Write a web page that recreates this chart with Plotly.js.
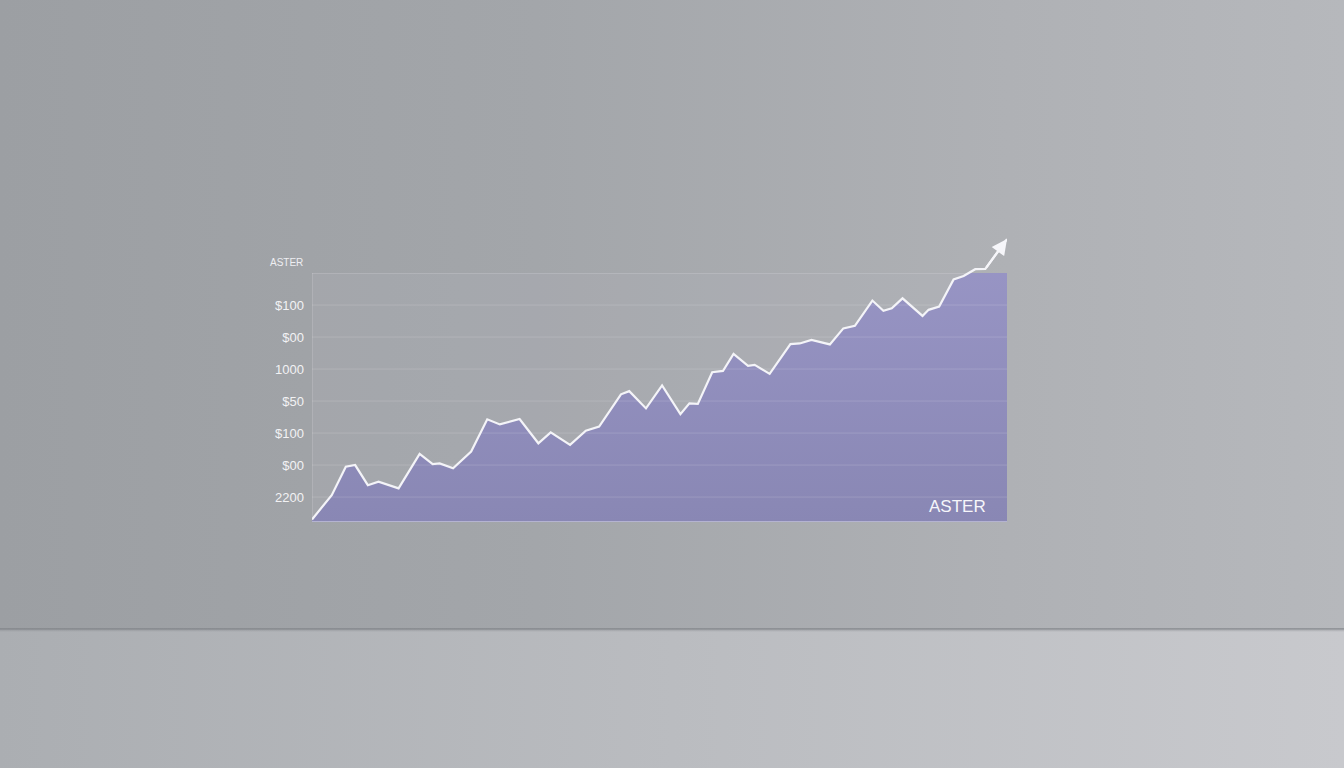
<!DOCTYPE html>
<html>
<head>
<meta charset="utf-8">
<script src="https://cdn.plot.ly/plotly-3.0.1.min.js"></script>
<style>
  html, body { margin: 0; padding: 0; width: 1344px; height: 768px; overflow: hidden; }
  #wall { position: absolute; left: 0; top: 0; width: 1344px; height: 630px;
    background: linear-gradient(to right, #9c9fa3 0%, #a3a6aa 40%, #afb1b5 75%, #b6b8bc 100%); }
  #edge { position: absolute; left: 0; top: 628px; width: 1344px; height: 4px;
    background: linear-gradient(to bottom, rgba(125,128,133,0.7), rgba(125,128,133,0)); }
  #floor { position: absolute; left: 0; top: 630px; width: 1344px; height: 138px;
    background: linear-gradient(to right, #abaeb2 0%, #babcc0 50%, #c8c9cd 100%); }
  #chart { position: absolute; left: 0; top: 0; width: 1344px; height: 768px; }
</style>
</head>
<body>
<div id="wall"></div>
<div id="floor"></div>
<div id="edge"></div>
<div id="chart"></div>
<script>
// Series (x: position along the time axis, y: value in grid units)
const xs = [0, 2.83, 4.85, 6.19, 8.01, 9.54, 12.42, 15.44, 17.31, 18.32, 20.24, 22.83, 25.14, 26.95, 29.78,
  32.47, 34.24, 37.02, 39.28, 41.19, 44.32, 45.51, 47.91, 50.22, 52.85, 54.14, 55.35, 57.41, 58.95, 60.47,
  62.55, 63.50, 65.65, 68.63, 69.97, 71.65, 74.29, 76.22, 77.88, 80.39, 81.97, 83.17, 84.71, 87.58, 88.45,
  89.97, 92.04, 93.48, 95.14, 96.59, 99.7];
const ys = [0.08, 0.84, 1.73, 1.78, 1.15, 1.26, 1.05, 2.13, 1.81, 1.83, 1.68, 2.20, 3.21, 3.05, 3.22,
  2.46, 2.80, 2.41, 2.85, 2.98, 3.99, 4.09, 3.55, 4.27, 3.37, 3.71, 3.69, 4.68, 4.72, 5.25,
  4.88, 4.91, 4.63, 5.56, 5.58, 5.69, 5.55, 6.05, 6.13, 6.92, 6.60, 6.68, 6.99, 6.44, 6.63,
  6.73, 7.58, 7.69, 7.90, 7.91, 8.84];

// Y tick labels as shown
const tickVals = [0.78, 1.78, 2.78, 3.78, 4.78, 5.78, 6.78];
const tickText = ['2200', '$00', '$100', '$50', '1000', '$00', '$100'];

const panelTop = 7.78;   // top of the chart panel
const xMax = 99.7;
const yMax = 9.0;

// Fill lives in the panel subplot (clipped at panel top); line lives in a taller subplot on top
const fillTrace = {
  x: xs, y: ys, xaxis: 'x', yaxis: 'y',
  type: 'scatter', mode: 'lines',
  line: { width: 0, color: 'rgba(0,0,0,0)' },
  fill: 'tozeroy',
  fillcolor: '#8f8dbb',
  fillgradient: { type: 'vertical', colorscale: [[0, '#8987b4'], [1, '#9996c6']] },
  hoverinfo: 'skip', showlegend: false
};
const lineTrace = {
  x: xs, y: ys, xaxis: 'x', yaxis: 'y2',
  type: 'scatter', mode: 'lines',
  line: { width: 2.2, color: '#f4f4f8' },
  hoverinfo: 'skip', showlegend: false
};

const n = xs.length;
const gridShapes = tickVals.map(v => ({
  type: 'line', xref: 'x', yref: 'y', x0: 0, x1: xMax, y0: v, y1: v,
  line: { color: 'rgba(255,255,255,0.15)', width: 1 }, layer: 'above'
}));

const layout = {
  width: 1344, height: 768,
  margin: { l: 312, r: 1344 - 1007, t: 234, b: 246, pad: 0 },
  paper_bgcolor: 'rgba(0,0,0,0)',
  plot_bgcolor: 'rgba(0,0,0,0)',
  showlegend: false,
  xaxis: { range: [0, xMax], showgrid: false, zeroline: false, showticklabels: false, showline: false, fixedrange: true, anchor: 'y' },
  yaxis: {
    range: [0, panelTop], domain: [0, panelTop / yMax], anchor: 'x',
    showgrid: false, zeroline: false, showline: false,
    tickmode: 'array', tickvals: tickVals, ticktext: tickText,
    ticks: '', ticklabelstandoff: 7,
    tickfont: { family: 'Liberation Sans, Arial, sans-serif', size: 13, color: '#f2f2f4' }
  },
  yaxis2: {
    range: [0, yMax], domain: [0, 1], anchor: 'x',
    showgrid: false, zeroline: false, showticklabels: false, showline: false
  },
  shapes: [
    { type: 'rect', xref: 'x', yref: 'y', x0: 0, x1: xMax, y0: 0, y1: panelTop,
      fillcolor: 'rgba(180,180,192,0.2)', line: { color: 'rgba(225,225,232,0.4)', width: 1 }, layer: 'below' },
    ...gridShapes,
    { type: 'line', xref: 'x', yref: 'y', x0: 0, x1: xMax, y0: 0, y1: 0,
      line: { color: 'rgba(235,235,245,0.6)', width: 1.5 }, layer: 'above' }
  ],
  annotations: [
    { xref: 'x', yref: 'y2', x: xs[n - 1], y: ys[n - 1], ax: xs[n - 2], ay: ys[n - 2],
      axref: 'x', ayref: 'y2', showarrow: true, arrowhead: 2, arrowsize: 1.4, arrowwidth: 2.2,
      arrowcolor: '#f6f6fa', text: '' },
    { xref: 'paper', yref: 'paper', x: -0.064, y: panelTop / yMax + 0.035, xanchor: 'left', yanchor: 'middle',
      text: 'ASTER', showarrow: false,
      font: { family: 'Liberation Sans, Arial, sans-serif', size: 10, color: '#eeeef2' } },
    { xref: 'paper', yref: 'paper', x: 0.973, y: 0.055, xanchor: 'right', yanchor: 'middle',
      text: 'ASTER', showarrow: false,
      font: { family: 'Liberation Sans, Arial, sans-serif', size: 17, color: '#f6f6fa' } }
  ]
};

Plotly.newPlot('chart', [fillTrace, lineTrace], layout, { displayModeBar: false, staticPlot: true });
</script>
</body>
</html>
